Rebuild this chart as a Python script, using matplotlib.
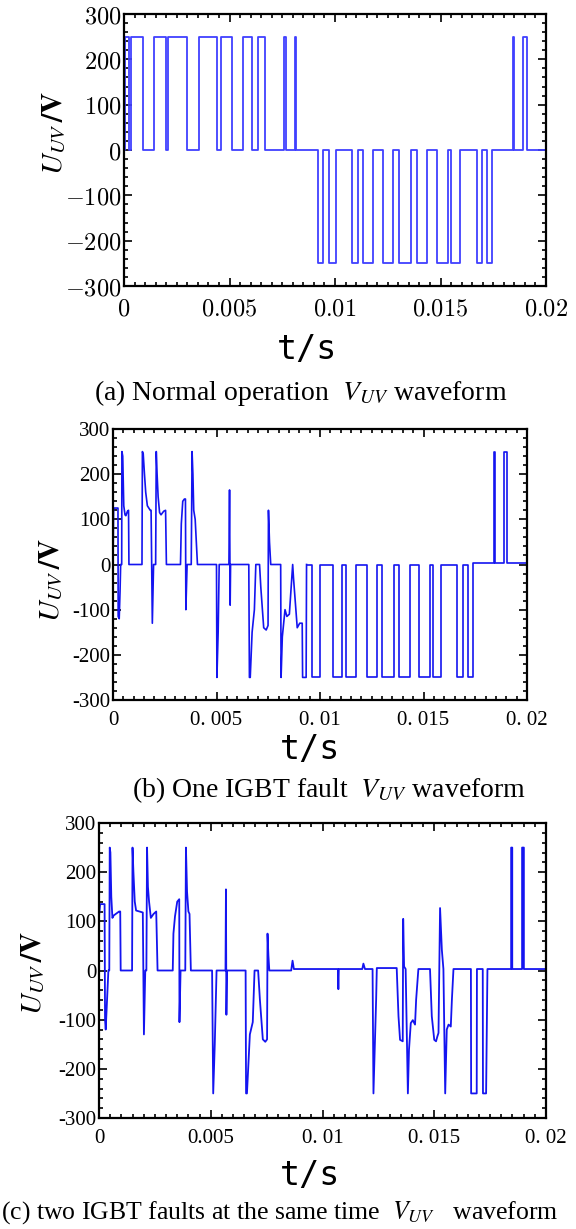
import matplotlib.pyplot as plt
from matplotlib.ticker import MultipleLocator

plt.rcParams['mathtext.fontset'] = 'cm'

# (a) normal operation: switching instants (s) and level after each one (V)
a_t = [0, 0.00005, 0.00026, 0.00035, 0.00090, 0.00143, 0.00200, 0.00209, 0.00299, 0.00357,
       0.00443, 0.00458, 0.00510, 0.00565, 0.00609, 0.00635, 0.00670, 0.00757, 0.00767, 0.00812,
       0.00815, 0.00919, 0.00943, 0.00972, 0.01005, 0.01079, 0.01111, 0.01134, 0.01179, 0.01226,
       0.01276, 0.01303, 0.01360, 0.01387, 0.01437, 0.01485, 0.01537, 0.01550, 0.01592, 0.01672,
       0.01695, 0.01719, 0.01745, 0.01845, 0.01850, 0.01892, 0.01908, 0.02]
a_v = [0, 250, 0, 250, 0, 250, 0, 250, 0, 250,
       0, 250, 0, 250, 0, 250, 0, 250, 0, 250,
       0, -250, 0, -250, 0, -250, 0, -250, 0, -250,
       0, -250, 0, -250, 0, -250, 0, -250, 0, -250,
       0, -250, 0, 250, 0, 250, 0, 0]

# (b) one IGBT fault: distorted part (waveform vertices)
b_t = [0, 0.00003, 0.00024, 0.00025, 0.00030, 0.00034, 0.00037, 0.00042, 0.00043, 0.00047,
       0.00052, 0.00058, 0.00062, 0.00070, 0.00075, 0.00077, 0.00140, 0.00142, 0.00146, 0.00152,
       0.00158, 0.00166, 0.00180, 0.00184, 0.00190, 0.00196, 0.00206, 0.00209, 0.00213, 0.00218,
       0.00225, 0.00232, 0.00245, 0.00254, 0.00258, 0.00326, 0.00330, 0.00337, 0.00345, 0.00350,
       0.00352, 0.00358, 0.00378, 0.00382, 0.00386, 0.00390, 0.00397, 0.00408, 0.00500, 0.00502,
       0.00508, 0.00513, 0.00560, 0.00563, 0.00566, 0.00568, 0.00656, 0.00659, 0.00663, 0.00672,
       0.00683, 0.00690, 0.00708, 0.00714, 0.00728, 0.00740, 0.00749, 0.00751, 0.00756, 0.00762,
       0.00810, 0.00812, 0.00818, 0.00831, 0.00840, 0.00852, 0.00868, 0.00872, 0.00890, 0.00902,
       0.00914, 0.00916, 0.00933, 0.00935]
b_v = [0, 125, 125, -115, -120, -60, 0, 0, 250, 240,
       130, 110, 108, 118, 120, 0, 0, 250, 245, 200,
       160, 130, 120, 120, -130, 0, 0, 250, 200, 150,
       115, 110, 118, 120, 0, 0, 90, 140, 145, 145,
       -100, 0, 0, 250, 200, 120, 100, 0, 0, -250,
       -150, 0, 0, 165, -90, 0, 0, -250, -250, -150,
       -100, 0, 0, -50, -140, -145, -135, 120, 50, 0,
       0, -250, -160, -100, -115, -110, 0, -30, -140, -130,
       -130, -250, -250, 0]
# (b) regular PWM part: switching instants and level after each one
b_pwm_t = [0.00935, 0.00962, 0.00998, 0.01065, 0.01106, 0.01124, 0.01175, 0.01225, 0.01275, 0.01298,
           0.01359, 0.01380, 0.01433, 0.01478, 0.01531, 0.01547, 0.01585, 0.01660, 0.01692, 0.01715,
           0.01740, 0.01842, 0.01846, 0.01890, 0.01902, 0.02]
b_pwm_v = [0, -250, 0, -250, 0, -250, 0, -250, 0, -250,
           0, -250, 0, -250, 0, -250, 0, -250, 0, -250,
           3, 250, 3, 250, 3, 3]

# (c) two IGBT faults at the same time (waveform vertices)
c_t = [0, 0.00005, 0.00025, 0.00027, 0.00030, 0.00036, 0.00042, 0.00046, 0.00048, 0.00051,
       0.00055, 0.00060, 0.00066, 0.00090, 0.00095, 0.00097, 0.00148, 0.00150, 0.00154, 0.00160,
       0.00166, 0.00196, 0.00201, 0.00207, 0.00212, 0.00215, 0.00219, 0.00224, 0.00232, 0.00244,
       0.00256, 0.00262, 0.00330, 0.00333, 0.00340, 0.00350, 0.00359, 0.00360, 0.00365, 0.00386,
       0.00389, 0.00394, 0.00400, 0.00405, 0.00411, 0.00506, 0.00511, 0.00518, 0.00526, 0.00566,
       0.00568, 0.00570, 0.00573, 0.00656, 0.00658, 0.00662, 0.00675, 0.00688, 0.00696, 0.00712,
       0.00720, 0.00733, 0.00744, 0.00752, 0.00754, 0.00758, 0.00762, 0.00860, 0.00866, 0.00872,
       0.01069, 0.01071, 0.01073, 0.01178, 0.01183, 0.01190, 0.01224, 0.01228, 0.01240, 0.01243,
       0.01332, 0.01340, 0.01347, 0.01359, 0.01361, 0.01365, 0.01372, 0.01382, 0.01387, 0.01395,
       0.01404, 0.01414, 0.01419, 0.01429, 0.01481, 0.01489, 0.01500, 0.01508, 0.01514, 0.01519,
       0.01526, 0.01534, 0.01541, 0.01549, 0.01556, 0.01564, 0.01574, 0.01579, 0.01586, 0.01664,
       0.01665, 0.01690, 0.01691, 0.01717, 0.01718, 0.01732, 0.01738, 0.01844, 0.01844, 0.01849,
       0.01849, 0.01893, 0.01893, 0.01901, 0.01901, 0.02]
c_v = [110, 135, 135, -100, -120, -60, 0, 0, 250, 240,
       150, 107, 112, 120, 120, 0, 0, 250, 200, 140,
       122, 118, -130, 0, 0, 250, 170, 140, 107, 115,
       120, 0, 0, 75, 110, 140, 145, -105, 0, 0,
       250, 160, 120, 115, 0, 0, -250, -150, 0, 0,
       165, -90, 0, 0, -250, -250, -130, -105, 0, 0,
       -60, -140, -145, -140, 75, 30, 0, 0, 20, 3,
       3, -38, 3, 3, 14, 3, 3, -250, -59, 5,
       5, -93, -141, -144, 105, 8, 3, -250, -161, -107,
       -101, -110, -59, 3, 3, -93, -141, -144, -134, -127,
       127, 42, 3, -250, -120, -110, -114, -59, 3, 3,
       -250, -250, 3, 3, -250, -250, 3, 3, 250, 250,
       3, 3, 250, 250, 3, 3]

x_ticks = [0, 0.005, 0.01, 0.015, 0.02]
y_ticks = [-300, -200, -100, 0, 100, 200, 300]
a_xlabels = ['$0$', '$0.005$', '$0.01$', '$0.015$', '$0.02$']
a_ylabels = ['$-300$', '$-200$', '$-100$', '$0$', '$100$', '$200$', '$300$']
b_xlabels = ['0', '0. 005', '0. 01', '0. 015', '0. 02']
c_xlabels = ['0', '0.005', '0. 01', '0. 015', '0. 02']
bc_ylabels = ['-300', '-200', '-100', '0', '100', '200', '300']

W, H = 576, 1229
fig = plt.figure(figsize=(W / 100, H / 100), dpi=100)


def box(left, top, right, bottom):
    # pixel box -> figure fraction
    return [left / W, 1 - bottom / H, (right - left) / W, (bottom - top) / H]


def style(ax, xlabels, ylabels, size, family):
    ax.set_xlim(0, 0.02)
    ax.set_ylim(-300, 300)
    ax.set_xticks(x_ticks, xlabels, fontsize=size, family=family)
    ax.set_yticks(y_ticks, ylabels, fontsize=size, family=family)
    ax.xaxis.set_minor_locator(MultipleLocator(0.0005))
    ax.yaxis.set_minor_locator(MultipleLocator(20))
    ax.tick_params(which='both', direction='in', top=True, right=True, width=1.2)
    ax.tick_params(which='major', length=6)
    ax.tick_params(which='minor', length=3)
    ax.tick_params(axis='y', pad=2)
    ax.tick_params(axis='x', pad=8)
    for s in ax.spines.values():
        s.set_linewidth(1.6)


ax1 = fig.add_axes(box(124, 14, 546, 286))
ax1.plot(a_t, a_v, drawstyle='steps-post', color='#4040ff', lw=1.3)
style(ax1, a_xlabels, a_ylabels, 17.5, 'serif')

ax2 = fig.add_axes(box(113, 429, 527, 700))
ax2.plot(b_t, b_v, color='#1414f0', lw=1.2)
ax2.plot(b_pwm_t, b_pwm_v, drawstyle='steps-post', color='#1414f0', lw=1.2)
style(ax2, b_xlabels, bc_ylabels, 15, 'Liberation Serif')

ax3 = fig.add_axes(box(99, 823, 546, 1118))
ax3.plot(c_t, c_v, color='#1414f0', lw=1.3)
style(ax3, c_xlabels, bc_ylabels, 15, 'Liberation Serif')

# axis titles and captions
ylab = r'$U_{UV}\,\mathbf{/V}$'
for x, y in [(53, 133), (50, 580), (32, 973)]:
    fig.text(x / W, 1 - y / H, ylab, rotation=90, ha='center', va='center',
             fontsize=21, math_fontfamily='stix')
for x, y in [(307, 350), (310, 750), (310, 1175)]:
    fig.text(x / W, 1 - y / H, 't/s', ha='center', va='center',
             fontsize=24, family='DejaVu Sans Mono')

fig.text(301 / W, 1 - 393 / H, r'(a) Normal operation  $V_{UV}$ waveform', ha='center', va='center',
         fontsize=20, family='Liberation Serif', math_fontfamily='stix')
fig.text(329 / W, 1 - 790 / H, r'(b) One IGBT fault  $V_{UV}$ waveform', ha='center', va='center',
         fontsize=20, family='Liberation Serif', math_fontfamily='stix')
fig.text(1 / W, 1 - 1213 / H, r'(c) two IGBT faults at the same time  $V_{UV}$   waveform',
         ha='left', va='center', fontsize=18.5, family='Liberation Serif', math_fontfamily='stix')

fig.savefig('out.png', dpi=100)
